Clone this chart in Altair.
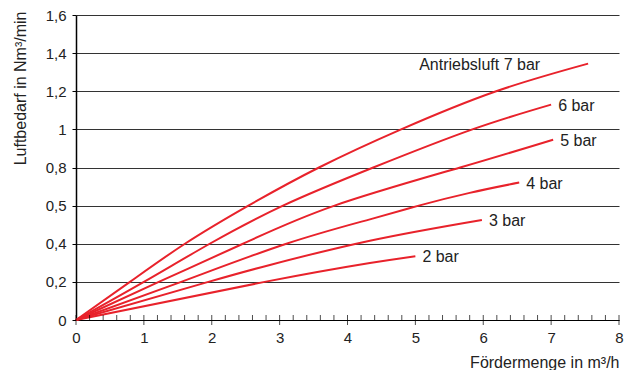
import altair as alt
import pandas as pd

# Series (x = Fördermenge m³/h, y = Luftbedarf Nm³/min)
x_2bar = [0, 2.78, 4.33, 5.0]
y_2bar = [0, 0.2, 0.299, 0.335]
x_3bar = [0, 1.95, 2.857, 4.33, 5.98]
y_3bar = [0, 0.2, 0.289, 0.416, 0.525]
x_4bar = [0, 1.55, 3.1, 4.33, 5.05, 5.8, 6.53]
y_4bar = [0, 0.2, 0.4, 0.528, 0.6, 0.667, 0.721]
x_5bar = [0, 1.22, 2.46, 3.81, 5.66, 7.03]
y_5bar = [0, 0.2, 0.4, 0.6, 0.8, 0.946]
x_6bar = [0, 1.0, 1.97, 3.05, 4.38, 5.84, 7.0]
y_6bar = [0, 0.2, 0.4, 0.6, 0.8, 1.0, 1.13]
x_7bar = [0, 0.795, 1.605, 2.54, 3.58, 4.79, 6.19, 7.545]
y_7bar = [0, 0.2, 0.4, 0.6, 0.8, 1.0, 1.2, 1.345]

series_names = ["2 bar", "3 bar", "4 bar", "5 bar", "6 bar", "Antriebsluft 7 bar"]
series_x = [x_2bar, x_3bar, x_4bar, x_5bar, x_6bar, x_7bar]
series_y = [y_2bar, y_3bar, y_4bar, y_5bar, y_6bar, y_7bar]

y_ticks = [0, 0.2, 0.4, 0.6, 0.8, 1.0, 1.2, 1.4, 1.6]
y_tick_labels = ["0", "0,2", "0,4", "0,5", "0,8", "1", "1,2", "1,4", "1,6"]
x_ticks = [0, 1, 2, 3, 4, 5, 6, 7, 8]
x_minor_ticks = [0.2, 0.4, 0.6, 0.8, 1.2, 1.4, 1.6, 1.8, 2.2, 2.4, 2.6, 2.8,
                 3.2, 3.4, 3.6, 3.8, 4.2, 4.4, 4.6, 4.8, 5.2, 5.4, 5.6, 5.8,
                 6.2, 6.4, 6.6, 6.8, 7.2, 7.4, 7.6, 7.8]

rows = []
for name, xs, ys in zip(series_names, series_x, series_y):
    for i, (xv, yv) in enumerate(zip(xs, ys)):
        rows.append({"serie": name, "x": xv, "y": yv, "i": i})
df = pd.DataFrame(rows)

ends = pd.DataFrame({
    "serie": series_names,
    "x": [xs[-1] for xs in series_x],
    "y": [ys[-1] for ys in series_y],
})

major_df = pd.DataFrame({"x": x_ticks, "y": [0] * len(x_ticks)})
minor_df = pd.DataFrame({"x": x_minor_ticks, "y": [0] * len(x_minor_ticks)})

RED = "#e8222b"
FONT = "Liberation Sans"
TXT = "#222222"

label_expr = "[" + ",".join("'%s'" % s for s in y_tick_labels) + "][round(datum.value*5)]"

xscale = alt.Scale(domain=[0, 8], nice=False)
yscale = alt.Scale(domain=[0, 1.6], nice=False)

X_TITLE = "Fördermenge in m³/h"
Y_TITLE = "Luftbedarf in Nm³/min"

x_axis = alt.Axis(values=x_ticks, grid=False, ticks=False, tickSize=0,
                  domainColor="#000000", domainWidth=1,
                  labelFontSize=15, labelFont=FONT, labelColor=TXT,
                  labelPadding=10, labelFlush=False, format="d",
                  titleFont=FONT, titleFontSize=16, titleFontWeight="normal",
                  titleColor=TXT, titleX=543, titleY=42, titleAlign="right",
                  titleBaseline="middle")
y_axis = alt.Axis(values=y_ticks, labelExpr=label_expr, grid=True,
                  gridColor="#333333", gridWidth=1,
                  tickColor="#000000", tickSize=4, tickWidth=1,
                  domainColor="#000000", domainWidth=1.5,
                  labelFontSize=15, labelFont=FONT, labelColor=TXT,
                  labelPadding=6, labelFlush=False,
                  titleFont=FONT, titleFontSize=16, titleFontWeight="normal",
                  titleColor=TXT, titleX=-56, titleY=-4, titleAngle=270,
                  titleAlign="right", titleBaseline="middle")


def xenc():
    return alt.X("x:Q", scale=xscale, title=X_TITLE, axis=x_axis)


def yenc():
    return alt.Y("y:Q", scale=yscale, title=Y_TITLE, axis=y_axis)


lines = alt.Chart(df).mark_line(color=RED, strokeWidth=2, interpolate="natural").encode(
    x=xenc(), y=yenc(), detail="serie:N", order="i:Q",
)

major = alt.Chart(major_df).mark_tick(
    orient="vertical", color="#000000", size=10, thickness=1
).encode(x=xenc(), y=yenc())

minor = alt.Chart(minor_df).mark_tick(
    orient="vertical", color="#000000", size=5, thickness=1, yOffset=-2.5
).encode(x=xenc(), y=yenc())

labels_main = alt.Chart(ends[ends["serie"] != "Antriebsluft 7 bar"]).mark_text(
    align="left", baseline="middle", dx=7, dy=1, fontSize=16, font=FONT, color=TXT
).encode(x=xenc(), y=yenc(), text="serie:N")

label_7 = alt.Chart(ends[ends["serie"] == "Antriebsluft 7 bar"]).mark_text(
    align="right", baseline="middle", dx=-48, dy=1, fontSize=16, font=FONT, color=TXT
).encode(x=xenc(), y=yenc(), text="serie:N")

chart = alt.layer(lines, minor, major, labels_main, label_7).properties(
    width=543,
    height=305,
    autosize=alt.AutoSizeParams(type="none"),
    padding={"left": 68, "top": 7, "right": 10, "bottom": 50},
    background="#ffffff",
).configure_view(stroke=None)

chart.save("out.html", embed_options={"renderer": "svg", "actions": False})
